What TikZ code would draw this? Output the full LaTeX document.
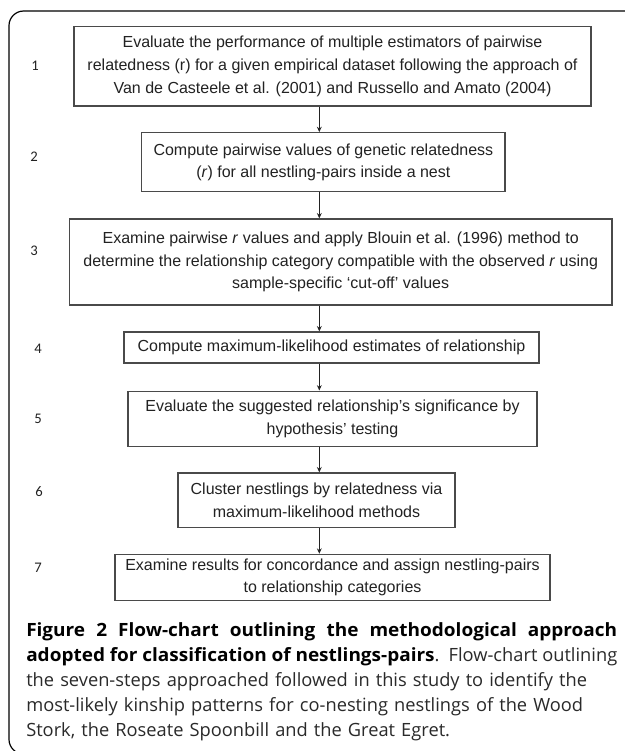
\documentclass[tikz,border=0pt]{standalone}
\usepackage{fontspec}
\setmainfont{Liberation Sans}
\newfontfamily\capfont{Open Sans}[BoldFeatures={FakeStretch=1.04}]
\newfontfamily\numfont{Carlito}
\usetikzlibrary{arrows.meta}

\definecolor{boxline}{HTML}{4A4A4A}
\definecolor{boxtext}{HTML}{222222}
\definecolor{captext}{HTML}{2A2A2A}

% one caption line spread to the full width
\newcommand{\fullline}[1]{\leavevmode\hbox to 443.25pt{\spaceskip=0.26em plus 1fil\relax #1}}

\begin{document}
\begin{tikzpicture}[x=0.75pt, y=-0.75pt]
\useasboundingbox (0,0) rectangle (625,751);
\clip (0,0) rectangle (625,751);
\fill [white] (0,0) rectangle (625,751);

% frame round figure and caption
\draw [line width=0.9pt, rounded corners=11pt] (640,11) -- (9,11) -- (9,754) -- (80,754);

\coordinate (spine) at (319.3,0);

\begin{scope}[every node/.style={rectangle, draw=boxline, line width=0.9pt, text=boxtext, align=center, inner sep=0pt, font=\fontsize{12}{17}\selectfont}]
    \node (evaluate) at (332.5,66.3) [minimum width=387.75pt, minimum height=59.5pt]
        {Evaluate the performance of multiple estimators of pairwise\\
         relatedness (r) for a given empirical dataset following the approach of\\
         Van de Casteele et al. (2001) and Russello and Amato (2004)};

    \node (compute) at (323.4,162.2) [minimum width=272.5pt, minimum height=44.25pt]
        {Compute pairwise values of genetic relatedness\\
         (\textit{r}) for all nestling-pairs inside a nest};

    \node (examine) at (340.7,262) [minimum width=407pt, minimum height=64.5pt]
        {Examine pairwise \textit{r} values and apply Blouin et al. (1996) method to\\
         determine the relationship category compatible with the observed \textit{r} using\\
         sample-specific ‘cut-off’ values};

    \node (estimate) at (331.5,347.5) [minimum width=311.25pt, minimum height=23.25pt]
        {Compute maximum-likelihood estimates of relationship};

    \node (significance) at (332.5,418.6) [minimum width=306.75pt, minimum height=41.25pt]
        {Evaluate the suggested relationship’s significance by\\
         hypothesis’ testing};

    \node (cluster) at (316.5,500.3) [minimum width=207.75pt, minimum height=41pt]
        {Cluster nestlings by relatedness via\\
         maximum-likelihood methods};

    \node (assign) at (332.5,577.3) [minimum width=326.25pt, minimum height=34.5pt]
        {Examine results for concordance and assign nestling-pairs\\
         to relationship categories};
\end{scope}

\begin{scope}[every node/.style={text=boxtext, font=\numfont\fontsize{11}{13}\selectfont}]
    \node (num1) at (35,65.7) {1};
    \node (num2) at (34,156.7) {2};
    \node (num3) at (34,250.7) {3};
    \node (num4) at (38,349) {4};
    \node (num5) at (38,419) {5};
    \node (num6) at (39,491.7) {6};
    \node (num7) at (38,568) {7};
\end{scope}

\begin{scope}[>={Stealth[length=4pt, width=3.6pt]},
              every edge/.style={draw=boxtext, line width=0.75pt}]
    \path [->] (evaluate.south -| spine) edge (compute.north -| spine);
    \path [->] (compute.south -| spine) edge (examine.north -| spine);
    \path [->] (examine.south -| spine) edge (estimate.north -| spine);
    \path [->] (estimate.south -| spine) edge (significance.north -| spine);
    \path [->] (significance.south -| spine) edge (cluster.north -| spine);
    \path [->] (cluster.south -| spine) edge (assign.north -| spine);
\end{scope}

% caption
\node (caption) at (26,636.5) [anchor=base west, inner sep=0pt, text width=443.25pt, align=left, text=captext,
    font=\capfont\fontsize{13.7}{18.7}\selectfont]
    {\fullline{\textbf{\color{black}Figure 2 Flow-chart outlining the methodological approach}}\\
     \fullline{\textbf{\color{black}adopted for classification of nestlings-pairs}. Flow-chart outlining}\\
     the seven-steps approached followed in this study to identify the\\
     most-likely kinship patterns for co-nesting nestlings of the Wood\\
     Stork, the Roseate Spoonbill and the Great Egret.};
\end{tikzpicture}
\end{document}
